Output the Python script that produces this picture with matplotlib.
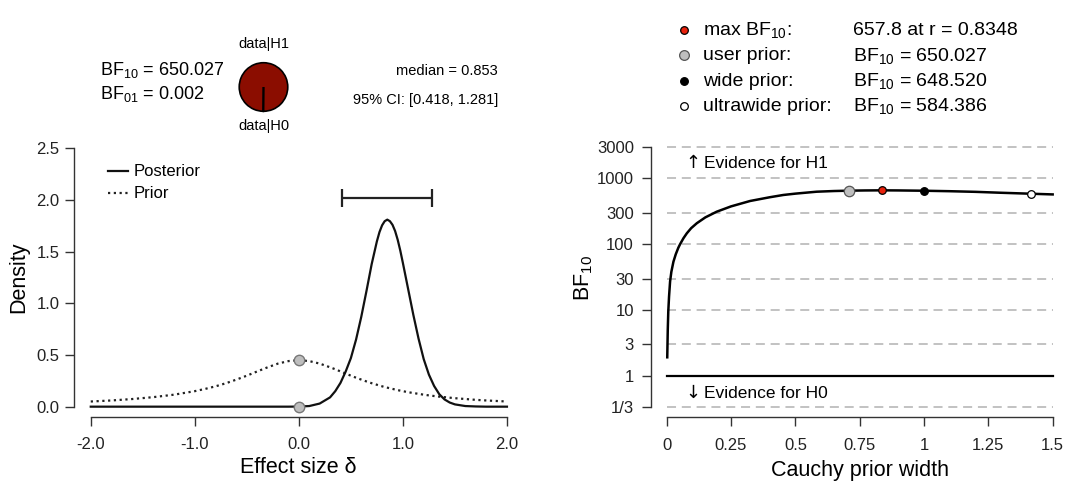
import matplotlib
matplotlib.use("Agg")
import matplotlib.pyplot as plt
from matplotlib.lines import Line2D

plt.rcParams["font.family"] = ["Liberation Sans", "DejaVu Sans"]
plt.rcParams["mathtext.fontset"] = "custom"
plt.rcParams["mathtext.rm"] = "Liberation Sans"
plt.rcParams["mathtext.default"] = "regular"

# ---- data: prior and posterior (left panel) ----
delta = [-2.0, -1.8, -1.6, -1.4, -1.2, -1.0, -0.9, -0.8, -0.7, -0.6, -0.5, -0.4,
         -0.3, -0.2, -0.1, 0.0, 0.1, 0.2, 0.3, 0.35, 0.4, 0.45, 0.5, 0.55, 0.6,
         0.65, 0.7, 0.725, 0.75, 0.775, 0.8, 0.825, 0.85, 0.875, 0.9, 0.925, 0.95,
         0.975, 1.0, 1.05, 1.1, 1.15, 1.2, 1.25, 1.3, 1.35, 1.4, 1.45, 1.5, 1.6,
         1.7, 1.8, 1.9, 2.0]
prior = [0.050, 0.060, 0.074, 0.092, 0.116, 0.150, 0.172, 0.197, 0.227, 0.262,
         0.300, 0.341, 0.381, 0.417, 0.441, 0.450, 0.441, 0.417, 0.381, 0.362,
         0.341, 0.320, 0.300, 0.280, 0.262, 0.244, 0.227, 0.220, 0.212, 0.204,
         0.197, 0.190, 0.184, 0.178, 0.172, 0.166, 0.160, 0.155, 0.150, 0.140,
         0.132, 0.124, 0.116, 0.109, 0.103, 0.097, 0.092, 0.087, 0.082, 0.074,
         0.066, 0.060, 0.055, 0.050]
posterior = [0, 0, 0, 0, 0, 0, 0, 0, 0, 0, 0, 0, 0, 0, 0, 0.001, 0.006, 0.03,
             0.09, 0.15, 0.23, 0.34, 0.47, 0.65, 0.87, 1.12, 1.38, 1.49, 1.60,
             1.69, 1.755, 1.795, 1.81, 1.795, 1.76, 1.70, 1.615, 1.51, 1.39,
             1.14, 0.89, 0.66, 0.46, 0.31, 0.20, 0.12, 0.07, 0.04, 0.022, 0.006,
             0.002, 0.0, 0.0, 0.0]
prior_at_0 = 0.450
posterior_at_0 = 0.001
ci_lower, ci_upper = 0.418, 1.281
median = 0.853
bf10 = 650.027
bf01 = 0.002

# ---- data: robustness check (right panel) ----
r_width = [0.002, 0.004, 0.006, 0.009, 0.013, 0.018, 0.026, 0.035, 0.045, 0.052,
           0.065, 0.078, 0.095, 0.117, 0.15, 0.194, 0.25, 0.324, 0.4, 0.453,
           0.5, 0.583, 0.65, 0.7071, 0.77, 0.8348, 0.9, 1.0, 1.1, 1.2, 1.3,
           1.4142, 1.5]
bf_curve = [1.9, 5.0, 9.4, 16, 27, 38, 54, 70, 88, 100, 123, 146, 175, 208, 255,
            311, 375, 453, 516, 559, 586, 627, 642, 650.027, 655, 657.8, 655.5,
            648.52, 638, 624, 604, 584.386, 570]
special_names = ["max BF$_{10}$:", "user prior:", "wide prior:", "ultrawide prior:"]
special_r = [0.8348, 0.7071, 1.0, 1.4142]
special_bf = [657.8, 650.027, 648.520, 584.386]
special_text = ["657.8 at r = 0.8348", "BF$_{10}$ = 650.027",
                "BF$_{10}$ = 648.520", "BF$_{10}$ = 584.386"]
special_fill = ["#E8210C", "#BEBEBE", "black", "white"]
special_size = [5.5, 7.5, 5.5, 5.5]
bf_ticks = [1 / 3, 1, 3, 10, 30, 100, 300, 1000, 3000]
bf_ticklabels = ["1/3", "1", "3", "10", "30", "100", "300", "1000", "3000"]
width_ticks = [0, 0.25, 0.5, 0.75, 1, 1.25, 1.5]
width_ticklabels = ["0", "0.25", "0.5", "0.75", "1", "1.25", "1.5"]

W, H = 1072, 486
fig = plt.figure(figsize=(W / 100, H / 100), dpi=100)


def box(x0, y0, x1, y1):
    # pixel box (top-left origin) -> figure fraction rect
    return [x0 / W, 1 - y1 / H, (x1 - x0) / W, (y1 - y0) / H]


def fx(x):
    return x / W


def fy(y):
    return 1 - y / H


AX_COL = "#333333"


def style_axes(ax):
    for s in ["top", "right"]:
        ax.spines[s].set_visible(False)
    for s in ["left", "bottom"]:
        ax.spines[s].set_color(AX_COL)
        ax.spines[s].set_linewidth(1.0)
    ax.tick_params(direction="out", length=6.5, width=1.0, color=AX_COL,
                   labelsize=12, labelcolor="#222222")


# ---------------- left panel ----------------
ax1 = fig.add_axes(box(74.1, 138, 523.6, 417))
ax1.plot(delta, prior, color="#222222", lw=1.6, ls=(0, (1.0, 1.6)))
ax1.plot(delta, posterior, color="#111111", lw=1.6)
ax1.plot([0, 0], [prior_at_0, posterior_at_0], ls="none", marker="o", ms=7.5,
         mfc="#BEBEBE", mec="#777777", mew=1.0, zorder=5)
bar_y = 2.02
ax1.hlines(bar_y, ci_lower, ci_upper, color="#222222", lw=1.6)
ax1.vlines([ci_lower, ci_upper], bar_y - 0.09, bar_y + 0.09, color="#222222", lw=1.6)
ax1.set_xlim(-2.16, 2.16)
ax1.set_ylim(-0.1, 2.6)
ax1.set_xticks([-2, -1, 0, 1, 2])
ax1.set_xticklabels(["-2.0", "-1.0", "0.0", "1.0", "2.0"])
ax1.set_yticks([0, 0.5, 1, 1.5, 2, 2.5])
ax1.set_yticklabels(["0.0", "0.5", "1.0", "1.5", "2.0", "2.5"])
ax1.spines["left"].set_bounds(0, 2.5)
ax1.spines["bottom"].set_bounds(-2, 2)
style_axes(ax1)
ax1.tick_params(axis="x", pad=8)
ax1.tick_params(axis="y", pad=4)
fig.text(fx(298), fy(467), "Effect size δ", fontsize=15.5, ha="center", va="center")
fig.text(fx(19), fy(277), "Density", fontsize=15.5, ha="center", va="center", rotation=90)

# legend of left panel
fig.add_artist(Line2D([fx(108), fx(128)], [fy(171), fy(171)], color="#111111", lw=1.6))
fig.add_artist(Line2D([fx(108), fx(128)], [fy(193), fy(193)], color="#222222", lw=1.6,
                      ls=(0, (1.0, 1.6))))
fig.text(fx(134), fy(171), "Posterior", fontsize=12, va="center")
fig.text(fx(134), fy(193), "Prior", fontsize=12, va="center")

# header of left panel
fig.text(fx(100), fy(70), f"BF$_{{10}}$ = {bf10:.3f}", fontsize=13, va="center")
fig.text(fx(100), fy(94), f"BF$_{{01}}$ = {bf01:.3f}", fontsize=13, va="center")
fig.text(fx(498), fy(71), f"median = {median:.3f}", fontsize=10.5, ha="right", va="center")
fig.text(fx(498), fy(100), f"95% CI: [{ci_lower:.3f}, {ci_upper:.3f}]", fontsize=10.5,
         ha="right", va="center")
fig.text(fx(263.5), fy(44), "data|H1", fontsize=10.5, ha="center", va="center")
fig.text(fx(263.5), fy(126), "data|H0", fontsize=10.5, ha="center", va="center")

axp = fig.add_axes(box(238.5, 62, 288.5, 112))
axp.pie([1, bf10], colors=["white", "#8B0D00"], startangle=270, counterclock=False,
        wedgeprops=dict(edgecolor="black", linewidth=1.2))
axp.set_xlim(-1.03, 1.03)
axp.set_ylim(-1.03, 1.03)
axp.set_aspect("equal")
axp.axis("off")

# ---------------- right panel ----------------
ax2 = fig.add_axes(box(651.3, 136.6, 1068.1, 417.4))
ax2.set_yscale("log")
for t in bf_ticks:
    if t == 1:
        ax2.plot([0, 1.5], [t, t], color="black", lw=1.6, zorder=2)
    else:
        ax2.plot([0, 1.5], [t, t], color="#BDBDBD", lw=1.3, ls=(0, (5, 3.2)), zorder=1)
ax2.plot(r_width, bf_curve, color="black", lw=1.8, zorder=3)
for rr, bb, c, s in zip(special_r, special_bf, special_fill, special_size):
    ax2.plot(rr, bb, ls="none", marker="o", ms=s, mfc=c,
             mec="#555555" if c == "#BEBEBE" else "black", mew=0.9, zorder=4)
ax2.set_xlim(-0.06, 1.56)
ax2.set_ylim(10 ** -0.6353, 10 ** 3.6353)
ax2.set_xticks(width_ticks)
ax2.set_xticklabels(width_ticklabels)
ax2.set_yticks(bf_ticks)
ax2.set_yticklabels(bf_ticklabels)
ax2.minorticks_off()
ax2.spines["left"].set_bounds(1 / 3, 3000)
ax2.spines["bottom"].set_bounds(0, 1.5)
style_axes(ax2)
ax2.tick_params(axis="x", pad=8)
ax2.tick_params(axis="y", pad=6)
fig.text(fx(860), fy(470), "Cauchy prior width", fontsize=15.5, ha="center", va="center")
fig.text(fx(584), fy(278), "BF$_{10}$", fontsize=15.5, ha="center", va="center", rotation=90)
fig.text(fx(693), fy(163), "↑", fontsize=13, ha="center", va="center",
         family=["DejaVu Sans"])
fig.text(fx(704), fy(163), "Evidence for H1", fontsize=12.5, va="center")
fig.text(fx(693), fy(393), "↓", fontsize=13, ha="center", va="center",
         family=["DejaVu Sans"])
fig.text(fx(704), fy(393), "Evidence for H0", fontsize=12.5, va="center")

# legend of right panel
leg_y = [30, 55.5, 81, 106.5]
leg_size = [5.5, 7.0, 5.5, 5.5]
for yy, name, val, c, s in zip(leg_y, special_names, special_text, special_fill, leg_size):
    fig.add_artist(Line2D([fx(684)], [fy(yy)], ls="none", marker="o", ms=s, mfc=c,
                          mec="#555555" if c == "#BEBEBE" else "black", mew=0.9))
    fig.text(fx(703), fy(yy), name, fontsize=14, va="center")
    fig.text(fx(853), fy(yy), val, fontsize=14, va="center")

fig.savefig("out.png", dpi=100)
